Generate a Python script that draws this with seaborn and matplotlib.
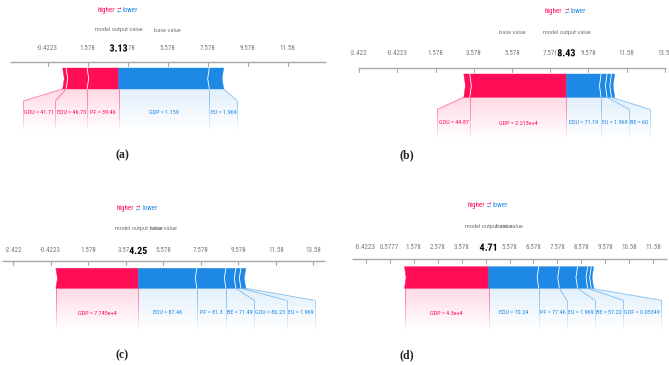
import numpy as np
import matplotlib
matplotlib.use("Agg")
import matplotlib.pyplot as plt
import seaborn as sns
from matplotlib import font_manager
from matplotlib.patches import Polygon
from matplotlib.collections import LineCollection
import matplotlib.patheffects as pe

# ---------------- data ----------------
BASE_VALUE = 5.5777

# features listed from the output value outwards: red (positive) first, then blue (negative)
a_features = ["PF", "EDU", "GOU", "GDP", "EU"]
a_values = ["39.46", "46.73", "41.71", "1.159", "1.969"]
a_shap = [1.58, 1.05, 0.17, -4.53, -0.72]

b_features = ["GDP", "GOU", "EDU", "EU", "BE", ""]
b_values = ["2.213e+4", "44.87", "71.19", "1.969", "60", ""]
b_shap = [5.06, 0.31, -1.81, -0.31, -0.23, -0.17]

c_features = ["GDP", "EDU", "PF", "BE", "GOU", "EU"]
c_values = ["7.745e+4", "87.46", "81.3", "71.49", "80.23", "1.969"]
c_shap = [4.40, -3.12, -1.55, -0.53, -0.27, -0.26]

d_features = ["GDP", "EDU", "PF", "EU", "BE", "GOF", ""]
d_values = ["4.3e+4", "70.24", "77.46", "1.969", "57.22", "0.05349", ""]
d_shap = [3.51, -2.09, -0.86, -0.76, -0.42, -0.15, -0.10]

panel_captions = ["(a)", "(b)", "(c)", "(d)"]
tick_steps = [2, 2, 2, 1]

# ---------------- layout (pixels) ----------------
W, H = 669, 365
LAYOUT = [
    dict(box=(0, 0, 335, 170), base_px=167.7, ppu=20.0, half=7.9, y_hi=10, y_mov=30,
         y_tick=48.5, y_axis=61.5, bar=(68, 89), y_lab=113, cap=(122, 155)),
    dict(box=(335, 0, 669, 170), base_px=512.0, ppu=19.12, half=8.08, y_hi=11.7, y_mov=32.7,
         y_tick=53.3, y_axis=68.3, bar=(74, 97.3), y_lab=123, cap=(407, 155)),
    dict(box=(0, 170, 335, 365), base_px=163.3, ppu=18.75, half=8.6, y_hi=208.3, y_mov=228.3,
         y_tick=251, y_axis=261, bar=(268.3, 288.3), y_lab=313, cap=(122, 355)),
    dict(box=(335, 170, 669, 365), base_px=509.5, ppu=23.97, half=6.57, y_hi=205.7, y_mov=226.7,
         y_tick=247.7, y_axis=259.3, bar=(266.7, 288.3), y_lab=313, cap=(407, 355)),
]
PANELS = [
    (a_features, a_values, a_shap),
    (b_features, b_values, b_shap),
    (c_features, c_values, c_shap),
    (d_features, d_values, d_shap),
]

sns.set_theme(style="white")
RED, BLUE = sns.color_palette(["#FF0D57", "#1E88E5"])


def pick_font():
    names = {f.name for f in font_manager.fontManager.ttflist}
    for n in ("Liberation Sans Narrow", "Roboto Condensed", "Open Sans Condensed",
              "Arial Narrow", "Noto Sans Condensed"):
        if n in names:
            return n
    return "Liberation Sans"


SANS = pick_font()
plt.rcParams["font.family"] = [SANS, "DejaVu Sans"]
FS = 5.0
FS_LAB = 4.4
GRAY_TXT = "#7a7a7a"
AXIS_COL = "#a8a8a8"

fig = plt.figure(figsize=(W / 100, H / 100), dpi=100)
renderer = fig.canvas.get_renderer()


def text_width_px(s, **kw):
    t = fig.text(0, 0, s, **kw)
    w = t.get_window_extent(renderer).width
    t.remove()
    return w


def fade_line(ax, pts, color, a0, n_fade=10):
    # pts: [p_bar, p_labeltop, p_end]; constant alpha on first leg, fading on the vertical leg
    segs, cols = [], []
    segs.append([pts[0], pts[1]])
    cols.append((*color, a0))
    ys = np.linspace(pts[1][1], pts[2][1], n_fade + 1)
    for k in range(n_fade):
        segs.append([(pts[1][0], ys[k]), (pts[1][0], ys[k + 1])])
        cols.append((*color, a0 * (1 - k / n_fade)))
    ax.add_collection(LineCollection(segs, colors=cols, linewidths=0.7, zorder=2))


def gradient_poly(ax, pts, color, y_top, y_bot, a0):
    poly = Polygon(pts, closed=True, facecolor="none", edgecolor="none")
    ax.add_patch(poly)
    n = 64
    img = np.zeros((n, 1, 4))
    img[:, 0, :3] = color
    img[:, 0, 3] = np.linspace(a0, 0, n)
    xs = [p[0] for p in pts]
    im = ax.imshow(img, extent=(min(xs), max(xs), y_bot, y_top), origin="upper",
                   aspect="auto", interpolation="bilinear", zorder=1)
    im.set_clip_path(poly)


for (feats, vals, shap), L, cap in zip(PANELS, LAYOUT, panel_captions):
    x0, y0, x1, y1 = L["box"]
    ppu = L["ppu"]
    ax = fig.add_axes([x0 / W, 1 - y1 / H, (x1 - x0) / W, (y1 - y0) / H])
    ax.set_axis_off()
    xlim = (BASE_VALUE + (x0 - L["base_px"]) / ppu, BASE_VALUE + (x1 - L["base_px"]) / ppu)

    shap = np.array(shap, dtype=float)
    out = BASE_VALUE + shap.sum()
    step = tick_steps[panel_captions.index(cap)]

    # ---- axis ----
    dom = (BASE_VALUE - L["half"], BASE_VALUE + L["half"])
    ax.plot(dom, [L["y_axis"]] * 2, color=AXIS_COL, lw=1.0, zorder=2, solid_capstyle="butt")
    kmax = int(np.ceil(L["half"] / step)) + 1
    for k in range(-kmax, kmax + 1):
        tv = BASE_VALUE + k * step
        if dom[0] <= tv <= dom[1]:
            ax.plot([tv, tv], [L["y_axis"], L["y_axis"] + 4], color=AXIS_COL, lw=0.8, zorder=2)
            ax.text(tv, L["y_tick"], f"{tv:.4g}", ha="center", va="center", fontsize=FS,
                    color=GRAY_TXT, zorder=3)
    ax.text(out, L["y_tick"], f"{out:.2f}", ha="center", va="center", fontsize=7.2,
            fontweight="bold", color="black", zorder=6,
            path_effects=[pe.withStroke(linewidth=2.5, foreground="white")])

    # ---- header texts ----
    gap = 4.0 / ppu
    ax.text(out - gap, L["y_hi"], "higher", ha="right", va="center", fontsize=FS, color=RED)
    ax.text(out + gap, L["y_hi"], "lower", ha="left", va="center", fontsize=FS, color=BLUE)
    ax.text(out, L["y_hi"] - 1.4, "\u2192", ha="center", va="center", fontsize=3.8, color=RED)
    ax.text(out, L["y_hi"] + 1.4, "\u2190", ha="center", va="center", fontsize=3.8, color=BLUE)
    ax.text(out, L["y_mov"], "model output value", ha="center", va="center", fontsize=4.6,
            color=GRAY_TXT)
    ax.text(BASE_VALUE, L["y_mov"], "base value", ha="center", va="center", fontsize=4.6,
            color=GRAY_TXT)

    # ---- force bar ----
    top, bot = L["bar"]
    ym = (top + bot) / 2
    tip = 1.6 / ppu
    pos_idx = [i for i, v in enumerate(shap) if v > 0]
    neg_idx = [i for i, v in enumerate(shap) if v < 0]
    segs = {}
    right = out
    for k, i in enumerate(pos_idx):
        left = right - shap[i]
        tipR = 0 if k == 0 else tip
        pts = [(left, top), (right, top), (right + tipR, ym), (right, bot), (left, bot), (left + tip, ym)]
        ax.add_patch(Polygon(pts, closed=True, facecolor=RED, edgecolor=RED, lw=0.3, zorder=3))
        segs[i] = (left, right)
        right = left
    left = out
    for k, i in enumerate(neg_idx):
        right = left - shap[i]
        tipL = 0 if k == 0 else tip
        pts = [(left, top), (right, top), (right - tip, ym), (right, bot), (left, bot), (left - tipL, ym)]
        ax.add_patch(Polygon(pts, closed=True, facecolor=BLUE, edgecolor=BLUE, lw=0.3, zorder=3))
        segs[i] = (left, right)
        left = right
    # white separators between blocks of the same colour
    for k, i in enumerate(pos_idx):
        if k > 0:
            r = segs[i][1]
            ax.plot([r, r + tip, r], [top, ym, bot], color="white", lw=0.6, zorder=4)
    for k, i in enumerate(neg_idx):
        if k > 0:
            l_ = segs[i][0]
            ax.plot([l_, l_ - tip, l_], [top, ym, bot], color="white", lw=0.6, zorder=4)

    # ---- labels below ----
    pad = 2.5 / ppu
    dy = 12
    y_end = bot + 42
    lab_kw = dict(fontsize=FS_LAB)
    regions = {}
    edge = out
    for i in pos_idx:
        if not feats[i]:
            continue
        s = f"{feats[i]} = {vals[i]}"
        need = text_width_px(s, **lab_kw) / ppu + pad
        lL = min(segs[i][0], edge - need)
        regions[i] = (lL, edge, s)
        edge = lL
    edge = out
    for i in neg_idx:
        if not feats[i]:
            continue
        s = f"{feats[i]} = {vals[i]}"
        need = text_width_px(s, **lab_kw) / ppu + pad
        lR = max(segs[i][1], edge + need)
        regions[i] = (edge, lR, s)
        edge = lR

    for k, i in enumerate(pos_idx):
        if i not in regions:
            continue
        lL, lR, s = regions[i]
        sL, sR = segs[i]
        poly = [(sL, bot), (sR, bot), (lR, bot + dy), (lR, y_end), (lL, y_end), (lL, bot + dy)]
        gradient_poly(ax, poly, RED, bot, y_end, 0.16)
        fade_line(ax, [(sL, bot), (lL, bot + dy), (lL, y_end)], RED, 0.45)
        if k == 0:
            fade_line(ax, [(sR, bot), (lR, bot + dy), (lR, y_end)], RED, 0.45)
        ax.text((lL + lR) / 2, L["y_lab"], s, ha="center", va="center", color=RED, zorder=5, **lab_kw)
    for k, i in enumerate(neg_idx):
        if i not in regions:
            continue
        lL, lR, s = regions[i]
        sL, sR = segs[i]
        poly = [(sL, bot), (sR, bot), (lR, bot + dy), (lR, y_end), (lL, y_end), (lL, bot + dy)]
        gradient_poly(ax, poly, BLUE, bot, y_end, 0.13)
        fade_line(ax, [(sR, bot), (lR, bot + dy), (lR, y_end)], BLUE, 0.45)
        ax.text((lL + lR) / 2, L["y_lab"], s, ha="center", va="center", color=BLUE, zorder=5, **lab_kw)

    ax.set_xlim(*xlim)
    ax.set_ylim(y1, y0)

    # ---- caption ----
    fig.text(L["cap"][0] / W, 1 - L["cap"][1] / H, cap, ha="center", va="center",
             fontsize=8.5, fontweight="bold", family=["Liberation Serif", "DejaVu Serif"])

fig.savefig("out.png", dpi=100)
